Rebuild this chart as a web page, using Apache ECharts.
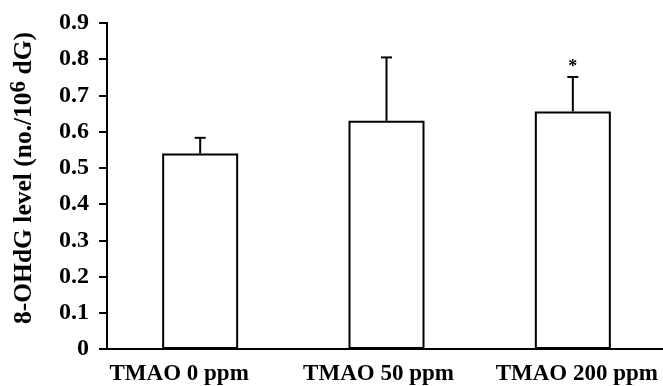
<!DOCTYPE html>
<html>
<head>
<meta charset="utf-8">
<script src="https://cdn.jsdelivr.net/npm/echarts@6/dist/echarts.min.js"></script>
<style>
html,body{margin:0;padding:0;background:#fff;}
#chart{width:663px;height:386px;}
</style>
</head>
<body>
<div id="chart"></div>
<script>
// ---- data ----
const categories = ['TMAO 0 ppm', 'TMAO 50 ppm', 'TMAO 200 ppm'];
const means = [0.54, 0.63, 0.656];
const upperErr = [0.583, 0.805, 0.751];
const significance = ['', '', '*'];
const yTicks = [0, 0.1, 0.2, 0.3, 0.4, 0.5, 0.6, 0.7, 0.8, 0.9];

const FONT = '"Liberation Serif", "Times New Roman", serif';

// label horizontal nudges (style only)
const labelStyles = ['l0', 'l1', 'l2'];

const errData = categories.map((c, i) => [i, means[i], upperErr[i], significance[i]]);

const lblBase = { color: '#000', fontFamily: FONT, fontWeight: 'bold', fontSize: 23 };

const chart = echarts.init(document.getElementById('chart'));
chart.setOption({
  animation: false,
  backgroundColor: '#fff',
  grid: { left: 107, right: -3, top: 23, bottom: 37, containLabel: false, outerBoundsMode: 'none' },
  xAxis: {
    type: 'category',
    data: categories,
    axisLine: { lineStyle: { color: '#000', width: 2 } },
    axisTick: { show: false },
    axisLabel: {
      color: '#000', fontFamily: FONT, fontWeight: 'bold', fontSize: 23, margin: 14, interval: 0,
      formatter: (v, i) => '{' + labelStyles[i] + '|' + v + '}',
      rich: {
        l0: Object.assign({ padding: [0, 42, 0, 0] }, lblBase),
        l1: Object.assign({ padding: [0, 16, 0, 0] }, lblBase),
        l2: Object.assign({ padding: [0, 0, 0, 8] }, lblBase)
      }
    }
  },
  yAxis: {
    type: 'value',
    min: yTicks[0],
    max: yTicks[yTicks.length - 1],
    interval: 0.1,
    splitLine: { show: false },
    axisLine: { show: true, lineStyle: { color: '#000', width: 2 } },
    axisTick: { show: true, length: 8, lineStyle: { color: '#000', width: 2 } },
    axisLabel: {
      color: '#000', fontFamily: FONT, fontWeight: 'bold', fontSize: 24, margin: 18,
      formatter: v => (Math.abs(v) < 1e-9 ? '0' : v.toFixed(1))
    },
    name: '8-OHdG level (no./10{sup|6} dG)',
    nameLocation: 'middle',
    nameGap: 66,
    nameRotate: 90,
    nameTextStyle: {
      color: '#000', fontFamily: FONT, fontWeight: 'bold', fontSize: 25.5,
      padding: [0, 0, 0, 16],
      rich: {
        sup: { fontFamily: FONT, fontWeight: 'bold', fontSize: 23, color: '#000', verticalAlign: 'top', padding: [0, 0, 10, 0] }
      }
    }
  },
  series: [
    {
      type: 'bar',
      data: means,
      barWidth: 76,
      itemStyle: { color: '#fff', borderColor: '#000', borderWidth: 2 },
      z: 2
    },
    {
      type: 'custom',
      data: errData,
      z: 3,
      renderItem: function (params, api) {
        const idx = api.value(0);
        const top = api.coord([idx, api.value(2)]);
        const base = api.coord([idx, api.value(1)]);
        const capHalf = 5.5;
        const children = [
          { type: 'line', shape: { x1: top[0], y1: base[1], x2: top[0], y2: top[1] }, style: { stroke: '#000', lineWidth: 2 } },
          { type: 'line', shape: { x1: top[0] - capHalf, y1: top[1], x2: top[0] + capHalf, y2: top[1] }, style: { stroke: '#000', lineWidth: 2 } }
        ];
        const sig = significance[idx];
        if (sig) {
          children.push({
            type: 'text',
            style: { text: sig, x: top[0], y: top[1] - 1, align: 'center', verticalAlign: 'bottom', fill: '#000', font: 'bold 18px ' + FONT }
          });
        }
        return { type: 'group', children: children };
      }
    }
  ]
});
</script>
</body>
</html>
